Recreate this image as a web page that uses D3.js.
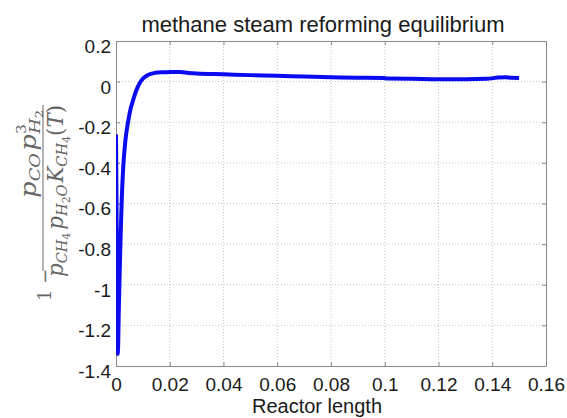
<!DOCTYPE html>
<html>
<head>
<meta charset="utf-8">
<script src="https://cdn.jsdelivr.net/npm/d3@7"></script>
<style>
body { margin: 0; background: #fff; }
.tick-label { font-family: "Liberation Sans", Arial, sans-serif; fill: #1a1a1a; }
.eq { font-family: "DejaVu Serif", "Liberation Serif", serif; font-style: italic; fill: #666; }
</style>
</head>
<body>
<svg id="chart" width="567" height="418"></svg>
<script>
var margin = { top: 41, right: 21, bottom: 52, left: 116 };
var totalWidth = 567, totalHeight = 418;
var width = totalWidth - margin.left - margin.right;
var height = totalHeight - margin.top - margin.bottom;

// values
var reactorLength = [0, 0.0003, 0.0006, 0.0008, 0.001, 0.0013, 0.0016, 0.0019, 0.0022, 0.0027,
    0.0035, 0.0046, 0.0055, 0.0064, 0.0075, 0.0089, 0.0102, 0.0114, 0.013, 0.0145,
    0.017, 0.02, 0.022, 0.024, 0.027, 0.03, 0.04, 0.05, 0.06, 0.07,
    0.08, 0.09, 0.0995, 0.101, 0.11, 0.12, 0.13, 0.138, 0.142, 0.145, 0.147, 0.15];
var equilibrium = [-0.26, -0.8, -1.34, -1.3, -1.15, -0.98, -0.82, -0.68, -0.56, -0.42,
    -0.29, -0.19, -0.13, -0.09, -0.045, -0.005, 0.017, 0.029, 0.038, 0.043,
    0.046, 0.047, 0.048, 0.047, 0.043, 0.04, 0.036, 0.032, 0.029, 0.025,
    0.022, 0.019, 0.018, 0.015, 0.014, 0.012, 0.012, 0.014, 0.02, 0.022, 0.019, 0.018];
var xTicks = [0, 0.02, 0.04, 0.06, 0.08, 0.1, 0.12, 0.14, 0.16];
var xTickLabels = ["0", "0.02", "0.04", "0.06", "0.08", "0.1", "0.12", "0.14", "0.16"];
var yTicks = [0.2, 0, -0.2, -0.4, -0.6, -0.8, -1, -1.2, -1.4];
var yTickLabels = ["0.2", "0", "-0.2", "-0.4", "-0.6", "-0.8", "-1", "-1.2", "-1.4"];

var svg = d3.select("#chart");
var g = svg.append("g")
    .attr("transform", "translate(" + margin.left + "," + margin.top + ")");

var xScale = d3.scaleLinear().domain([0, 0.16]).range([0, width]);
var yScale = d3.scaleLinear().domain([-1.4, 0.2]).range([height, 0]);

// grid
g.append("g").selectAll("line").data(xTicks.slice(1, -1)).join("line")
    .attr("x1", d => xScale(d)).attr("x2", d => xScale(d))
    .attr("y1", 0).attr("y2", height)
    .attr("stroke", "#c4c4c4").attr("stroke-dasharray", "1,2");
g.append("g").selectAll("line").data(yTicks.slice(1, -1)).join("line")
    .attr("x1", 0).attr("x2", width)
    .attr("y1", d => yScale(d)).attr("y2", d => yScale(d))
    .attr("stroke", "#c4c4c4").attr("stroke-dasharray", "1,2");

// axes (ticks point inward, box all round)
var xAxis = d3.axisBottom(xScale).tickValues(xTicks).tickSize(-4).tickFormat((d, i) => xTickLabels[i]).tickPadding(10);
var yAxis = d3.axisLeft(yScale).tickValues(yTicks).tickSize(-4).tickFormat((d, i) => yTickLabels[i]).tickPadding(5);
var xTop = d3.axisTop(xScale).tickValues(xTicks).tickSize(-4).tickFormat("");
var yRight = d3.axisRight(yScale).tickValues(yTicks).tickSize(-4).tickFormat("");

var gx = g.append("g").attr("transform", "translate(0," + height + ")").call(xAxis);
var gy = g.append("g").call(yAxis);
var gt = g.append("g").call(xTop);
var gr = g.append("g").attr("transform", "translate(" + width + ",0)").call(yRight);
[gx, gy, gt, gr].forEach(function(a) {
    a.selectAll(".domain").attr("stroke", "#8a8a8a");
    a.selectAll(".tick line").attr("stroke", "#8a8a8a");
});
gx.selectAll("text").attr("class", "tick-label").style("font-size", "19px")
    .attr("y", 25).attr("dy", 0);
gy.selectAll("text").attr("class", "tick-label").style("font-size", "19px")
    .attr("dy", "0.6em");

// line
svg.append("clipPath").attr("id", "plot-clip").append("rect")
    .attr("width", width).attr("height", height);
var line = d3.line()
    .x((d, i) => xScale(reactorLength[i]))
    .y(d => yScale(d))
    .curve(d3.curveMonotoneX);
g.append("path")
    .datum(equilibrium)
    .attr("clip-path", "url(#plot-clip)")
    .attr("d", line)
    .attr("fill", "none")
    .attr("stroke", "#0b0bf0")
    .attr("stroke-width", 4)
    .attr("stroke-linejoin", "round");

// title and x label
svg.append("text")
    .attr("class", "tick-label")
    .attr("x", 323).attr("y", 32)
    .attr("text-anchor", "middle")
    .style("font-size", "22px")
    .text("methane steam reforming equilibrium");
svg.append("text")
    .attr("class", "tick-label")
    .attr("x", 317).attr("y", 413)
    .attr("text-anchor", "middle")
    .style("font-size", "20px")
    .text("Reactor length");

// y label: 1 - pCO pH2^3 / (pCH4 pH2O KCH4(T)), rotated
var eq = svg.append("g").attr("class", "eq").attr("transform", "rotate(-90)");
eq.append("line")
    .attr("x1", -271).attr("x2", -105).attr("y1", 43).attr("y2", 43)
    .attr("stroke", "#777").attr("stroke-width", 1.1);
eq.append("text")
    .attr("x", -301).attr("y", 51)
    .style("font-size", "18px").style("font-style", "normal")
    .text("1 \u2212");

var num = eq.append("text").attr("x", -198).attr("y", 36).style("font-size", "22px")
    .attr("textLength", 88).attr("lengthAdjust", "spacingAndGlyphs");
num.append("tspan").text("p");
num.append("tspan").attr("dy", 4).style("font-size", "15px").text("CO");
num.append("tspan").attr("dy", -4).attr("dx", 2).text("p");
num.append("tspan").attr("dy", -10).style("font-size", "13px").style("font-style", "normal").text("3");
num.append("tspan").attr("dy", 14).attr("dx", -8).style("font-size", "15px").text("H");
num.append("tspan").attr("dy", 3).style("font-size", "11px").style("font-style", "normal").text("2");

var den = eq.append("text").attr("x", -277).attr("y", 63).style("font-size", "22px")
    .attr("textLength", 172).attr("lengthAdjust", "spacingAndGlyphs");
den.append("tspan").text("p");
den.append("tspan").attr("dy", 4).style("font-size", "15px").text("CH");
den.append("tspan").attr("dy", 3).style("font-size", "11px").style("font-style", "normal").text("4");
den.append("tspan").attr("dy", -7).attr("dx", 3).text("p");
den.append("tspan").attr("dy", 4).style("font-size", "15px").text("H");
den.append("tspan").attr("dy", 3).style("font-size", "11px").style("font-style", "normal").text("2");
den.append("tspan").attr("dy", -3).style("font-size", "15px").text("O");
den.append("tspan").attr("dy", -4).attr("dx", 2).text("K");
den.append("tspan").attr("dy", 4).style("font-size", "15px").text("CH");
den.append("tspan").attr("dy", 3).style("font-size", "11px").style("font-style", "normal").text("4");
den.append("tspan").attr("dy", -7).style("font-style", "normal").text("(");
den.append("tspan").text("T");
den.append("tspan").style("font-style", "normal").text(")");
</script>
</body>
</html>
